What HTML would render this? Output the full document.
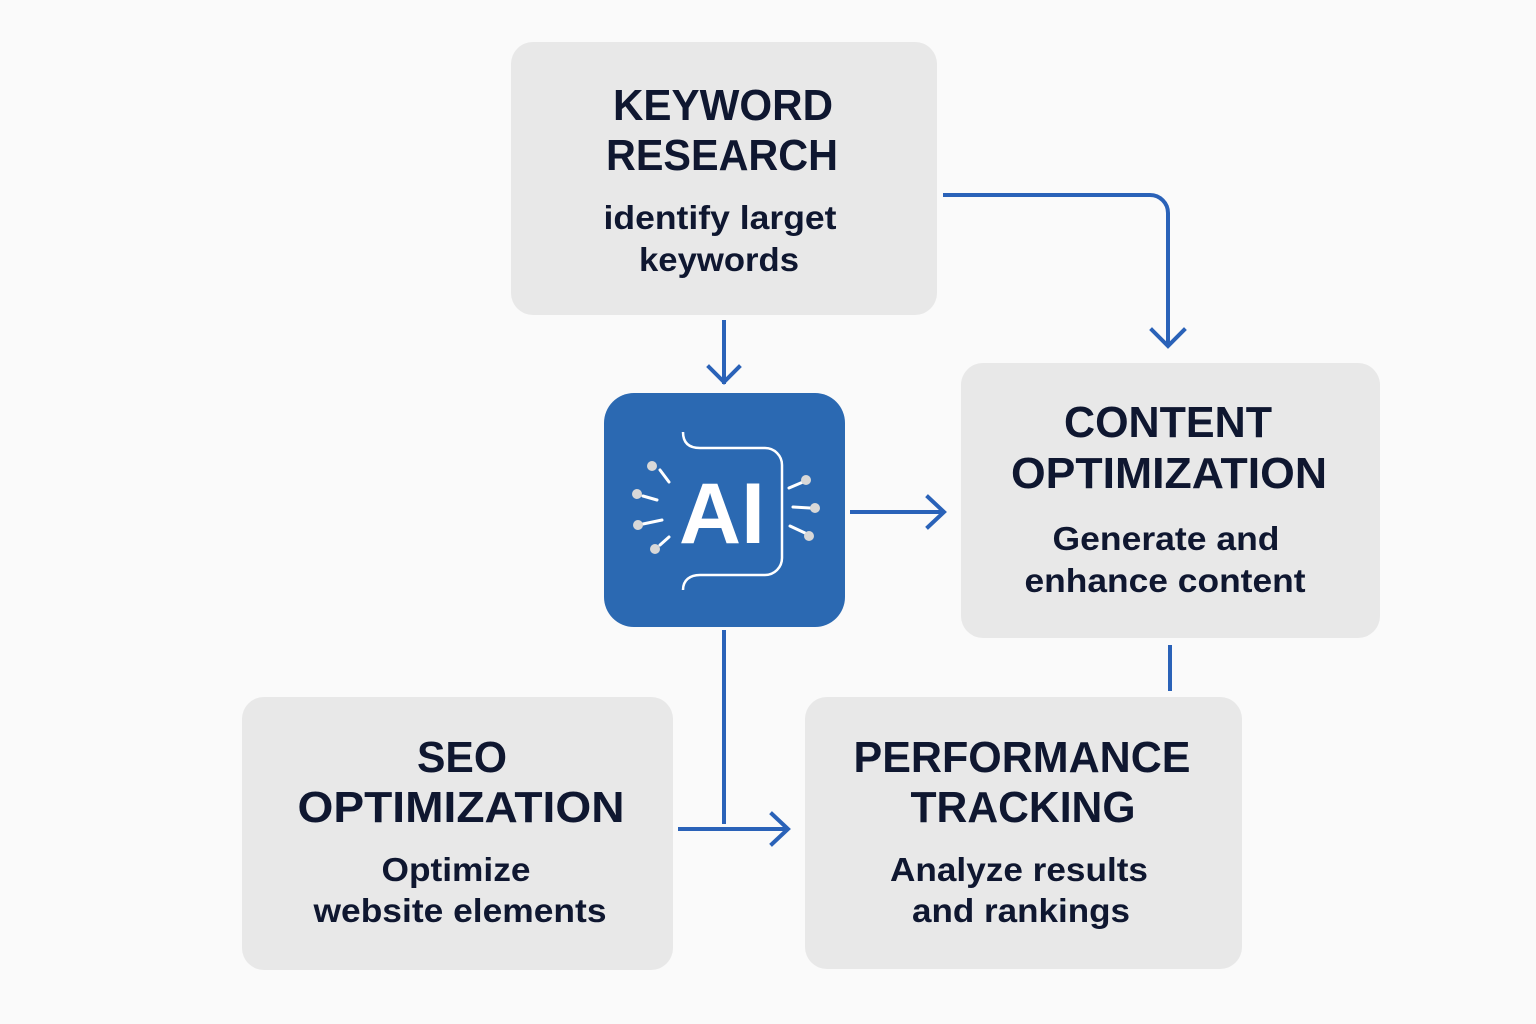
<!DOCTYPE html>
<html><head><meta charset="utf-8"><style>
html,body{margin:0;padding:0;background:#fafafa;}
svg{display:block}
text{font-family:"Liberation Sans",Arial,sans-serif;font-weight:bold;fill:#0f1730;text-anchor:middle}
.t{font-size:44px}
.s{font-size:33px}
</style></head><body>
<svg width="1536" height="1024" viewBox="0 0 1536 1024" xmlns="http://www.w3.org/2000/svg">
<rect width="1536" height="1024" fill="#fafafa"/>
<g fill="#e8e8e8">
<rect x="511" y="42" width="426" height="273" rx="22"/>
<rect x="961" y="363" width="419" height="275" rx="22"/>
<rect x="242" y="697" width="431" height="273" rx="22"/>
<rect x="805" y="697" width="437" height="272" rx="22"/>
</g>
<rect x="604" y="393" width="241" height="234" rx="30" fill="#2b69b2"/>
<g fill="none" stroke="#2a62b8" stroke-width="4" stroke-linecap="square">
<path d="M945 195 H1150 A18 18 0 0 1 1168 213 V345"/>
<path d="M1152 330 L1168 346 L1184 330"/>
<path d="M724 322 V382"/>
<path d="M709 367 L724 382 L739 367"/>
<path d="M852 512 H942"/>
<path d="M928 497 L944 512 L928 527"/>
<path d="M724 632 V822"/>
<path d="M680 829 H786"/>
<path d="M772 814 L788 829 L772 844"/>
<path d="M1170 647 V689"/>
</g>
<g fill="none" stroke="#fff" stroke-width="2.5">
<path d="M683 432 C683 444 690 448 700 448 H765 A17 17 0 0 1 782 465 V558 A17 17 0 0 1 765 575 H700 C690 575 683 580 683 590"/>
</g>
<g stroke="#fff" stroke-width="3" stroke-linecap="round">
<line x1="660" y1="470" x2="669" y2="482"/>
<line x1="643" y1="496" x2="657" y2="500"/>
<line x1="643" y1="524" x2="662" y2="520"/>
<line x1="660" y1="545" x2="669" y2="537"/>
<line x1="789" y1="488" x2="803" y2="482"/>
<line x1="793" y1="507" x2="810" y2="508"/>
<line x1="790" y1="526" x2="805" y2="533"/>
</g>
<g fill="#d8d8d8">
<circle cx="652" cy="466" r="5"/><circle cx="637" cy="494" r="5"/><circle cx="638" cy="525" r="5"/><circle cx="655" cy="549" r="5"/>
<circle cx="806" cy="480" r="5"/><circle cx="815" cy="508" r="5"/><circle cx="809" cy="536" r="5"/>
</g>
<text x="722" y="543" style="font-size:86px;fill:#fff">AI</text>
<text class="t" x="723" y="120" textLength="220" lengthAdjust="spacingAndGlyphs">KEYWORD</text>
<text class="t" x="722" y="170" textLength="232" lengthAdjust="spacingAndGlyphs">RESEARCH</text>
<text class="s" x="720" y="229" textLength="233" lengthAdjust="spacingAndGlyphs">identify larget</text>
<text class="s" x="719" y="271" textLength="160" lengthAdjust="spacingAndGlyphs">keywords</text>
<text class="t" x="1168" y="437" textLength="208" lengthAdjust="spacingAndGlyphs">CONTENT</text>
<text class="t" x="1169" y="488" textLength="316" lengthAdjust="spacingAndGlyphs">OPTIMIZATION</text>
<text class="s" x="1166" y="550" textLength="227" lengthAdjust="spacingAndGlyphs">Generate and</text>
<text class="s" x="1165" y="592" textLength="281" lengthAdjust="spacingAndGlyphs">enhance content</text>
<text class="t" x="462" y="772" textLength="90" lengthAdjust="spacingAndGlyphs">SEO</text>
<text class="t" x="461" y="822" textLength="327" lengthAdjust="spacingAndGlyphs">OPTIMIZATION</text>
<text class="s" x="456" y="881" textLength="149" lengthAdjust="spacingAndGlyphs">Optimize</text>
<text class="s" x="460" y="922" textLength="293" lengthAdjust="spacingAndGlyphs">website elements</text>
<text class="t" x="1022" y="772" textLength="337" lengthAdjust="spacingAndGlyphs">PERFORMANCE</text>
<text class="t" x="1023" y="822" textLength="225" lengthAdjust="spacingAndGlyphs">TRACKING</text>
<text class="s" x="1019" y="881" textLength="258" lengthAdjust="spacingAndGlyphs">Analyze results</text>
<text class="s" x="1021" y="922" textLength="218" lengthAdjust="spacingAndGlyphs">and rankings</text>
</svg>
</body></html>
